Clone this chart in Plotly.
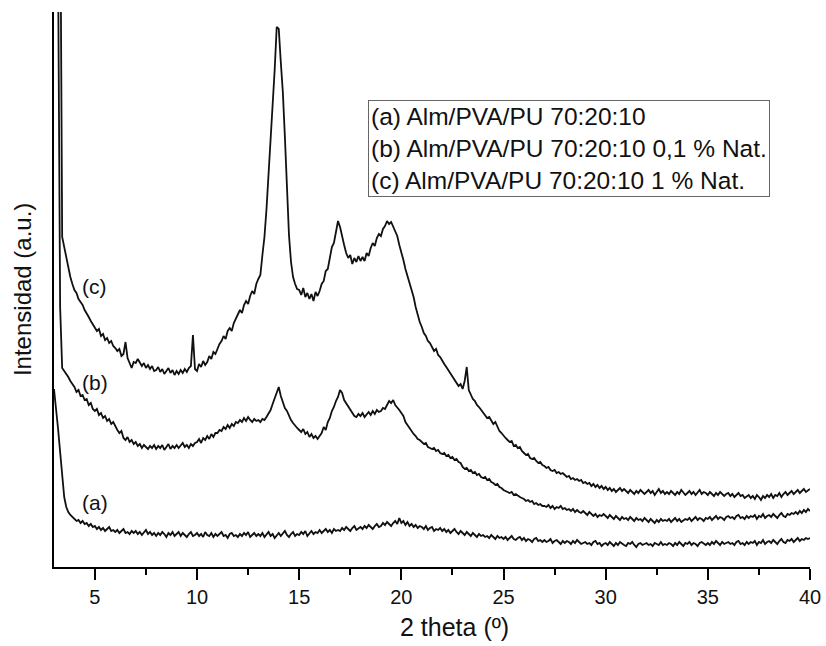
import numpy as np
import plotly.graph_objects as go

# 2-theta scan grid (degrees), 0.1 deg step from 3.0 to 40.0
two_theta = np.round(np.arange(3.0, 40.05, 0.1), 1)

# Intensities (arbitrary units), one row per degree
curve_a = [
    178, 160, 138, 115, 88, 70, 60, 55, 52, 50,
    49, 46, 47, 44, 46, 43, 44, 41, 43, 40,
    41, 38, 40, 37, 39, 36, 38, 40, 36, 37,
    35, 37, 34, 36, 38, 34, 35, 33, 36, 34,
    36, 33, 35, 32, 34, 37, 33, 35, 32, 34,
    31, 34, 32, 35, 33, 30, 34, 32, 35, 31,
    33, 35, 31, 34, 32, 30, 33, 35, 31, 32,
    34, 31, 33, 30, 35, 32, 31, 34, 30, 33,
    31, 33, 35, 31, 32, 29, 33, 34, 31, 32,
    30, 33, 31, 34, 32, 35, 30, 32, 34, 31,
    33, 31, 34, 30, 32, 35, 31, 33, 29, 32,
    34, 31, 33, 36, 32, 30, 33, 35, 31, 33,
    32, 35, 33, 36, 31, 34, 36, 33, 35, 34,
    37, 34, 36, 38, 35, 37, 34, 38, 36, 37,
    36, 39, 37, 40, 38, 36, 39, 41, 37, 39,
    40, 38, 41, 39, 42, 40, 38, 41, 43, 40,
    41, 44, 42, 45, 43, 41, 44, 46, 43, 49,
    44, 46, 42, 45, 41, 43, 40, 42, 39, 41,
    40, 38, 41, 37, 39, 40, 36, 38, 37, 39,
    36, 38, 35, 37, 34, 36, 38, 35, 33, 36,
    34, 32, 35, 33, 31, 34, 32, 30, 33, 31,
    32, 30, 31, 29, 32, 30, 28, 31, 29, 30,
    28, 30, 27, 29, 31, 28, 27, 29, 30, 27,
    29, 26, 28, 27, 25, 28, 29, 26, 27, 25,
    27, 25, 26, 28, 24, 26, 27, 25, 23, 26,
    24, 26, 25, 23, 26, 24, 27, 25, 23, 24,
    25, 23, 24, 22, 25, 26, 23, 24, 21, 23,
    24, 22, 25, 23, 21, 24, 22, 25, 23, 22,
    21, 24, 23, 25, 22, 20, 23, 24, 22, 23,
    24, 22, 23, 21, 24, 23, 22, 25, 22, 23,
    22, 24, 23, 21, 24, 22, 25, 23, 21, 24,
    23, 25, 22, 24, 23, 21, 24, 25, 23, 22,
    24, 22, 25, 23, 26, 24, 22, 25, 23, 24,
    25, 23, 24, 22, 25, 26, 23, 24, 22, 25,
    23, 25, 24, 26, 22, 25, 24, 27, 23, 25,
    26, 24, 27, 25, 23, 26, 28, 25, 24, 27,
    26, 28, 25, 27, 29, 26, 28, 27, 29, 28,
    29,
]

curve_b = [
    3000, 1500, 600, 260, 199, 196, 194, 190, 186, 183,
    180, 175, 177, 171, 172, 167, 168, 162, 164, 158,
    156, 158, 152, 154, 149, 151, 146, 148, 143, 145,
    140, 137, 134, 136, 129, 127, 130, 125, 127, 123,
    125, 121, 123, 119, 122, 120, 118, 121, 119, 122,
    118, 121, 119, 122, 117, 120, 123, 118, 121, 119,
    122, 119, 121, 124, 120, 122, 119, 123, 121, 124,
    125, 128, 124, 129, 127, 131, 128, 133, 130, 134,
    134, 137, 136, 140, 138, 142, 139, 143, 141, 145,
    144, 147, 145, 149, 146, 150, 147, 145, 148, 146,
    147, 145, 148, 147, 150, 153, 157, 163, 169, 176,
    180, 171, 164, 159, 156, 151, 147, 144, 141, 139,
    137, 135, 138, 133, 135, 130, 133, 129, 131, 128,
    131, 134, 140, 137, 145, 149, 156, 160, 166, 170,
    177, 174, 167, 164, 161, 158, 155, 151, 150, 153,
    151, 154, 150, 153, 155, 152, 156, 153, 157, 155,
    156, 159, 158, 162, 166, 164, 167, 162, 160, 157,
    154, 151, 145, 142, 138, 136, 133, 131, 128, 127,
    125, 123, 124, 120, 119, 118, 119, 116, 117, 114,
    113, 114, 111, 112, 109, 110, 107, 108, 105, 104,
    100, 98, 99, 96, 97, 94, 95, 92, 93, 90,
    89, 90, 87, 88, 85, 84, 82, 83, 80, 79,
    77, 76, 75, 74, 75, 72, 73, 71, 70, 69,
    68, 66, 67, 65, 66, 63, 64, 62, 63, 61,
    61, 60, 62, 59, 61, 58, 60, 59, 61, 58,
    59, 57, 58, 56, 58, 55, 57, 55, 54, 56,
    54, 52, 55, 53, 51, 53, 50, 52, 51, 53,
    51, 49, 52, 50, 48, 51, 49, 47, 50, 48,
    49, 47, 50, 48, 46, 49, 47, 48, 46, 49,
    47, 45, 48, 46, 44, 47, 45, 48, 46, 47,
    46, 48, 45, 47, 49, 46, 48, 45, 47, 48,
    47, 49, 46, 48, 50, 47, 49, 48, 46, 49,
    48, 50, 47, 49, 51, 48, 50, 49, 47, 50,
    51, 49, 50, 48, 51, 52, 49, 50, 48, 51,
    49, 51, 50, 52, 48, 51, 50, 53, 49, 51,
    52, 50, 53, 51, 49, 52, 54, 51, 50, 53,
    52, 54, 53, 55, 53, 56, 54, 57, 55, 58,
    56,
]

curve_c = [
    5000, 3000, 1500, 700, 330, 320, 308, 298, 290, 283,
    277, 274, 268, 265, 262, 257, 254, 250, 246, 243,
    240, 236, 238, 231, 233, 227, 229, 224, 226, 221,
    219, 216, 218, 211, 213, 225, 209, 203, 199, 205,
    204, 208, 205, 201, 204, 199, 202, 198, 201, 196,
    197, 200, 195, 198, 193, 196, 199, 194, 197, 192,
    196, 193, 197, 194, 198, 195, 199, 201, 232, 198,
    196, 203, 200, 206, 202, 205, 211, 208, 215, 213,
    218, 223, 226, 231, 228, 236, 239, 236, 244, 248,
    252, 257, 254, 262, 266, 263, 271, 276, 273, 283,
    288, 292, 312, 330, 358, 392, 425, 460, 497, 540,
    538, 505, 475, 430, 380, 332, 305, 290, 283, 278,
    277, 272, 279, 270, 274, 268, 273, 266, 275, 271,
    276, 283, 286, 296, 298, 308, 320, 324, 334, 346,
    340, 330, 322, 314, 309, 312, 303, 309, 305, 311,
    306, 310, 306, 314, 311, 319, 324, 321, 329, 333,
    331, 338, 341, 346, 343, 345, 340, 336, 331, 322,
    315, 307, 298, 292, 284, 277, 270, 260, 252, 245,
    240, 234, 231, 226, 224, 220, 216, 218, 212, 210,
    206, 203, 200, 197, 194, 190, 188, 185, 181, 183,
    178, 186, 200, 177, 172, 168, 166, 162, 160, 157,
    154, 151, 149, 150, 146, 143, 145, 140, 136, 134,
    131, 129, 127, 125, 126, 121, 122, 119, 120, 116,
    114, 112, 113, 109, 108, 109, 106, 104, 105, 102,
    101, 99, 100, 97, 96, 97, 94, 95, 93, 94,
    92, 90, 91, 88, 89, 87, 88, 86, 87, 84,
    85, 83, 84, 81, 83, 80, 82, 79, 81, 78,
    80, 77, 79, 76, 78, 75, 77, 79, 76, 78,
    76, 74, 77, 75, 73, 76, 74, 77, 75, 73,
    75, 77, 74, 76, 72, 75, 78, 74, 76, 73,
    75, 73, 76, 74, 72, 75, 73, 77, 74, 72,
    74, 76, 73, 75, 72, 74, 77, 73, 75, 74,
    72, 75, 73, 71, 74, 72, 75, 73, 71, 73,
    74, 71, 73, 70, 72, 74, 71, 72, 69, 71,
    72, 69, 71, 68, 72, 70, 67, 71, 69, 72,
    70, 73, 69, 72, 71, 74, 70, 73, 75, 72,
    74, 76, 73, 75, 77, 74, 76, 78, 75, 77,
    78,
]

curve_labels = ["(a)", "(b)", "(c)"]
label_pos_x = [5.0, 5.0, 5.0]
label_pos_y = [65, 185, 281]

legend_lines = [
    "(a) Alm/PVA/PU 70:20:10",
    "(b) Alm/PVA/PU 70:20:10 0,1 % Nat.",
    "(c) Alm/PVA/PU 70:20:10 1 % Nat.",
]

x_ticks = [5, 10, 15, 20, 25, 30, 35, 40]

FONT = "Liberation Sans, Arial, Helvetica, sans-serif"

fig = go.Figure()
for vals in (curve_a, curve_b, curve_c):
    fig.add_trace(go.Scatter(
        x=two_theta, y=vals, mode="lines",
        line=dict(color="#111111", width=1.8),
        showlegend=False, hoverinfo="skip",
    ))

annotations = []
for lab, lx, ly in zip(curve_labels, label_pos_x, label_pos_y):
    annotations.append(dict(
        x=lx, y=ly, xref="x", yref="y", text=lab, showarrow=False,
        xanchor="center", yanchor="middle",
        font=dict(family=FONT, size=21, color="#111111"),
    ))

annotations.append(dict(
    x=18.37, y=467, xref="x", yref="y",
    text="<br>".join(legend_lines), showarrow=False,
    xanchor="left", yanchor="top", align="left",
    font=dict(family=FONT, size=24.5, color="#111111"),
    bordercolor="#666666", borderwidth=1, borderpad=2,
    bgcolor="rgba(255,255,255,0)",
))

annotations.append(dict(
    x=0.53, y=-0.108, xref="paper", yref="paper",
    text="2 theta (º)", showarrow=False,
    xanchor="center", yanchor="middle",
    font=dict(family=FONT, size=25, color="#111111"),
))
annotations.append(dict(
    x=-0.0423, y=0.499, xref="paper", yref="paper",
    text="Intensidad (a.u.)", showarrow=False, textangle=-90,
    xanchor="center", yanchor="middle",
    font=dict(family=FONT, size=24, color="#111111"),
))

fig.update_layout(
    width=826, height=646,
    margin=dict(l=54, r=16, t=12, b=79, autoexpand=False),
    paper_bgcolor="white", plot_bgcolor="white",
    showlegend=False,
    annotations=annotations,
    xaxis=dict(
        range=[3, 40], tickvals=x_ticks, automargin=False,
        ticks="outside", ticklen=11, tickwidth=2, tickcolor="black",
        showline=True, linewidth=2, linecolor="black",
        showgrid=False, zeroline=False,
        tickfont=dict(family=FONT, size=20, color="#111111"),
        minor=dict(ticks="outside", ticklen=6, tickwidth=2, tickcolor="black",
                   tickvals=[7.5, 12.5, 17.5, 22.5, 27.5, 32.5, 37.5]),
    ),
    yaxis=dict(
        range=[0, 555], showline=True, linewidth=2, linecolor="black",
        automargin=False,
        showticklabels=False, ticks="", showgrid=False, zeroline=False,
    ),
)

fig.write_html("out.html", config={"displayModeBar": False},
               post_script="document.body.style.margin='0';")
